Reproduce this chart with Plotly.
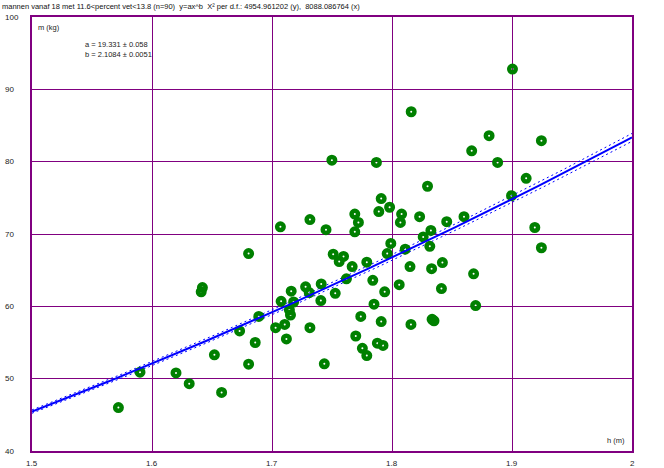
import numpy as np
import plotly.graph_objects as go

# Data (height in m, mass in kg)
h = [1.6805, 1.642, 1.641, 1.689, 1.673, 1.686, 1.652, 1.6805, 1.590, 1.620,
     1.631, 1.658, 1.572,
     1.791, 1.769, 1.789, 1.798, 1.808, 1.807, 1.823, 1.772, 1.769, 1.7316,
     1.707, 1.745, 1.8324, 1.826, 1.8315, 1.799, 1.796, 1.811, 1.751, 1.7596,
     1.756, 1.7668, 1.779, 1.815, 1.833, 1.784, 1.762, 1.806, 1.7939, 1.716,
     1.728, 1.741, 1.7527, 1.7407, 1.7076, 1.718, 1.785, 1.7145, 1.7154, 1.774,
     1.791, 1.8158, 1.8334, 1.835, 1.703, 1.7106, 1.7316, 1.712, 1.7698, 1.7878,
     1.7925, 1.7753, 1.779, 1.7436,
     1.8996, 1.8456, 1.860, 1.842, 1.868, 1.8412, 1.8697, 1.919, 1.9245,
     1.9004, 1.8809, 1.9245, 1.8664, 1.888, 1.9118, 1.8296,
     1.7499, 1.787, 1.816, 1.731]
m = [67.3, 62.6, 62.0, 58.6, 56.6, 55.0, 53.3, 52.0, 50.9, 50.8,
     49.3, 48.1, 46.0,
     74.9, 72.75, 73.1, 73.7, 72.75, 71.6, 72.4, 71.6, 70.3, 72.0,
     71.0, 70.6, 70.5, 69.6, 68.3, 68.7, 67.3, 67.9, 67.2, 66.9,
     66.2, 65.5, 66.1, 65.5, 65.2, 63.6, 63.8, 63.0, 62.0, 62.1,
     62.7, 63.1, 61.8, 60.8, 60.7, 60.6, 60.3, 59.5, 58.8, 58.6,
     57.9, 57.5, 58.2, 58.0, 57.05, 57.5, 57.05, 55.5, 55.9, 54.9,
     54.6, 54.2, 53.2, 52.06,
     75.3, 71.7, 72.4, 66.05, 64.5, 62.45, 60.1, 70.9, 68.1,
     92.8, 83.6, 82.9, 81.5, 79.9, 77.7, 76.6,
     80.2, 79.9, 86.9, 61.9]

# Fit parameters y = a * x^b
a, da = 19.331, 0.058
b, db = 2.1084, 0.0051

x_ticks = [1.5, 1.6, 1.7, 1.8, 1.9, 2.0]
x_tick_labels = ["1.5", "1.6", "1.7", "1.8", "1.9", "2"]
y_ticks = [40, 50, 60, 70, 80, 90, 100]
y_tick_labels = ["40", "50", "60", "70", "80", "90", "100"]

title_text = ("mannen vanaf 18 met 11.6<percent vet<13.8 (n=90)  y=ax^b  "
              "X² per d.f.: 4954.961202 (y),  8088.086764 (x)")

FONT = "Liberation Sans, Arial, sans-serif"
PURPLE = "#800080"
BLUE = "#0000FF"
GREEN = "#008000"

xs = np.linspace(1.5, 2.0, 201)
fit = a * xs ** b
upper = (a + da) * xs ** (b + db)
lower = (a - da) * xs ** (b - db)

fig = go.Figure()
fig.add_trace(go.Scatter(x=xs, y=upper, mode="lines",
                         line=dict(color=BLUE, width=1, dash="2px,3px"),
                         hoverinfo="skip", showlegend=False))
fig.add_trace(go.Scatter(x=xs, y=lower, mode="lines",
                         line=dict(color=BLUE, width=1, dash="2px,3px"),
                         hoverinfo="skip", showlegend=False))
fig.add_trace(go.Scatter(x=h, y=m, mode="markers",
                         marker=dict(symbol="circle-open", size=6.5, color=GREEN,
                                     line=dict(width=4.5, color=GREEN)),
                         showlegend=False))
fig.add_trace(go.Scatter(x=xs, y=fit, mode="lines",
                         line=dict(color=BLUE, width=2),
                         hoverinfo="skip", showlegend=False))

annotations = []
for v, t in zip(y_ticks, y_tick_labels):
    annotations.append(dict(x=-29 / 600, y=v, xref="paper", yref="y", text=t,
                            showarrow=False, xanchor="left", yanchor="middle",
                            font=dict(family=FONT, size=8, color="#222")))
for v, t in zip(x_ticks, x_tick_labels):
    annotations.append(dict(x=v, y=-12 / 434, xref="x", yref="paper", text=t,
                            showarrow=False, xanchor="center", yanchor="middle",
                            font=dict(family=FONT, size=8, color="#222")))
annotations += [
    dict(x=-32 / 600, y=1 + 11 / 434, xref="paper", yref="paper", text=title_text,
         showarrow=False, xanchor="left", yanchor="middle",
         font=dict(family=FONT, size=7.5, color="#111")),
    dict(x=4 / 600, y=1 - 10.3 / 434, xref="paper", yref="paper", text="m (kg)",
         showarrow=False, xanchor="left", yanchor="middle",
         font=dict(family=FONT, size=7.5, color="#222")),
    dict(x=50.7 / 600, y=1 - 28 / 434, xref="paper", yref="paper",
         text=f"a = {a:.3f} ± {da:.3f}",
         showarrow=False, xanchor="left", yanchor="middle",
         font=dict(family=FONT, size=7.5, color="#222")),
    dict(x=50.7 / 600, y=1 - 37.7 / 434, xref="paper", yref="paper",
         text=f"b = {b:.4f} ± {db:.4f}",
         showarrow=False, xanchor="left", yanchor="middle",
         font=dict(family=FONT, size=7.5, color="#222")),
    dict(x=595 / 600, y=11 / 434, xref="paper", yref="paper", text="h (m)",
         showarrow=False, xanchor="right", yanchor="middle",
         font=dict(family=FONT, size=7.5, color="#222")),
]

fig.update_layout(
    width=664, height=468,
    margin=dict(l=32, r=32, t=17, b=17, pad=0),
    paper_bgcolor="white", plot_bgcolor="white",
    showlegend=False,
    annotations=annotations,
    xaxis=dict(range=[1.5, 2.0], tickvals=x_ticks, showticklabels=False,
               showgrid=True, gridcolor=PURPLE, gridwidth=1,
               showline=True, mirror=True, linecolor=PURPLE, linewidth=1.5,
               zeroline=False, ticks="", fixedrange=True),
    yaxis=dict(range=[40, 100], tickvals=y_ticks, showticklabels=False,
               showgrid=True, gridcolor=PURPLE, gridwidth=1,
               showline=True, mirror=True, linecolor=PURPLE, linewidth=1.5,
               zeroline=False, ticks="", fixedrange=True),
)

fig.write_html("out.html")
